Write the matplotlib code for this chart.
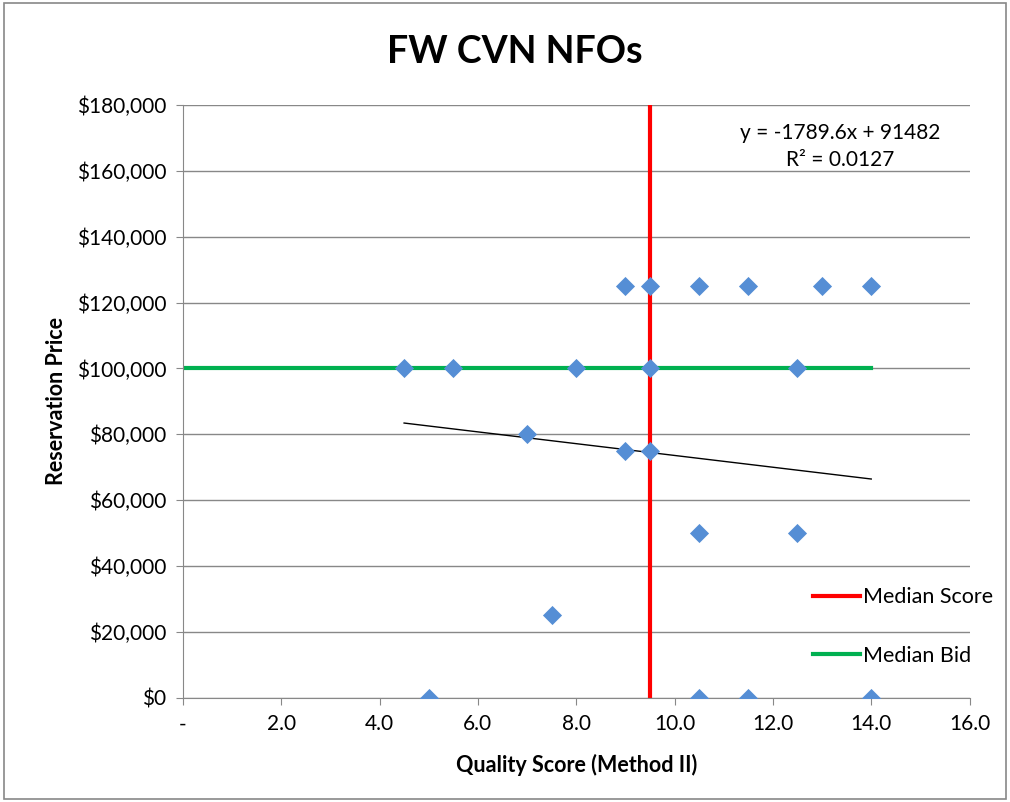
import matplotlib.pyplot as plt
from matplotlib.lines import Line2D
from matplotlib.patches import Rectangle

plt.rcParams['font.family'] = ['Lato', 'DejaVu Sans']

# data points (quality score, reservation price)
score = [4.5, 5.5, 8.0, 9.5, 12.5,
         9.0, 9.5, 10.5, 11.5, 13.0, 14.0,
         7.0, 9.0, 9.5,
         10.5, 12.5,
         7.5,
         5.0, 10.5, 11.5, 14.0]
price = [100000, 100000, 100000, 100000, 100000,
         125000, 125000, 125000, 125000, 125000, 125000,
         80000, 75000, 75000,
         50000, 50000,
         25000,
         0, 0, 0, 0]

median_score = 9.5
median_bid = 100000
slope = -1789.6
intercept = 91482
r2 = 0.0127

x_ticks = [0, 2, 4, 6, 8, 10, 12, 14, 16]
y_ticks = list(range(0, 180001, 20000))

fig = plt.figure(figsize=(10.1, 8.02), dpi=100)
ax = fig.add_axes([0.181, 0.130, 0.779, 0.739])
fig.patches.append(Rectangle((0.004, 0.004), 0.992, 0.992, transform=fig.transFigure,
                             fill=False, edgecolor='#888888', linewidth=1.2))

ax.plot([median_score, median_score], [0, 180000], color='#FF0000', lw=3, zorder=2)
ax.plot([0, max(score)], [median_bid, median_bid], color='#00B050', lw=3, zorder=2)

xs = [min(score), max(score)]
ax.plot(xs, [slope * v + intercept for v in xs], color='black', lw=1, zorder=3)

ax.scatter(score, price, marker='D', s=95, color='#558ED5', zorder=4, linewidths=0)

ax.set_xlim(0, 16)
ax.set_ylim(0, 180000)
ax.set_xticks(x_ticks)
ax.set_xticklabels(['-'] + ['%.1f' % v for v in x_ticks[1:]])
ax.set_yticks(y_ticks)
ax.set_yticklabels(['${:,}'.format(v) for v in y_ticks])
ax.tick_params(labelsize=15, color='#888888', length=5, pad=7)
ax.grid(axis='y', color='#888888', lw=1)
ax.set_axisbelow(True)
for s in ['top', 'right']:
    ax.spines[s].set_visible(False)
for s in ['left', 'bottom']:
    ax.spines[s].set_color('#888888')

fig.text(0.51, 0.935, 'FW CVN NFOs', fontsize=27, fontweight='bold', ha='center', va='center')
ax.set_xlabel('Quality Score (Method II)', fontsize=15.5, fontweight='bold', labelpad=14)
ax.set_ylabel('Reservation Price', fontsize=15.5, fontweight='bold', labelpad=7)

ax.text(13.36, 171500, 'y = -1789.6x + 91482', fontsize=15, ha='center', va='center')
ax.text(13.36, 163300, 'R² = 0.0127', fontsize=15, ha='center', va='center')

handles = [Line2D([], [], color='#FF0000', lw=3), Line2D([], [], color='#00B050', lw=3)]
ax.legend(handles, ['Median Score', 'Median Bid'], loc='center left',
          bbox_to_anchor=(0.776, 0.12), frameon=False, fontsize=15.5,
          labelspacing=1.8, handlelength=2.2, handletextpad=0.15)

fig.savefig('out.png', dpi=100)
